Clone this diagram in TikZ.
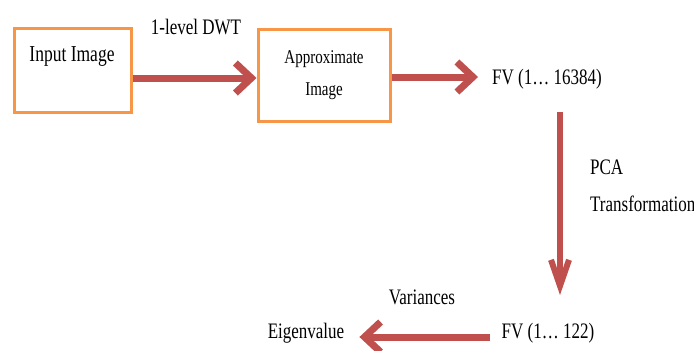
\documentclass[tikz,border=0pt]{standalone}
\usepackage{fontspec}
\setmainfont{Liberation Serif}
\usepackage{graphicx}
\usetikzlibrary{arrows.meta}
\definecolor{boxorange}{HTML}{F79646}
\definecolor{arrred}{HTML}{C0504D}
\newcommand\vtext[1]{\scalebox{1}[1.3]{#1}}
\begin{document}
\begin{tikzpicture}[x=1pt,y=-1pt,
  box/.style={draw=boxorange, line width=3pt, fill=white, inner sep=0pt},
  txt/.style={inner sep=0pt, font=\fontsize{17}{20}\selectfont},
  arr/.style={draw=arrred, line width=7pt, -{Straight Barb[length=16pt,width=30pt]}},
  ]
\useasboundingbox[fill=white] (0,0) rectangle (694,351);
% boxes
\node[box, minimum width=117pt, minimum height=84pt] (inp) at (72.5,70) {};
\node[box, minimum width=132pt, minimum height=92pt] (app) at (324,75) {};
% texts
\node[txt, font=\fontsize{17.5}{22}\selectfont] (inptxt) at (72,57) {\vtext{Input Image}};
\node[txt] (apptxt) at (324,73) {\vtext{\fontsize{15}{25}\selectfont\begin{tabular}{@{}c@{}}Approximate\\Image\end{tabular}}};
\node[txt] (dwt) at (196,27) {\vtext{1-level DWT}};
\node[txt] (fv1) at (547,79) {\vtext{FV (1… 16384)}};
\node[txt, anchor=west] (pca) at (590,167) {\vtext{PCA}};
\node[txt, anchor=west] (trans) at (590,204) {\vtext{Transformation}};
\node[txt] (fv2) at (548,333) {\vtext{FV (1… 122)}};
\node[txt] (eig) at (306,333) {\vtext{Eigenvalue}};
\node[txt] (var) at (422,297) {\vtext{Variances}};
% connector ends
\coordinate (v1) at (560,112);
\coordinate (v2) at (560,295);
% arrows
\draw[arr] ([yshift=-8pt]inp.east) -- ([yshift=-8pt]inp.east -| app.west);
\draw[arr] ([yshift=-2pt]app.east) -- ([xshift=-14pt,yshift=2pt]fv1.west);
\draw[arr, line width=6pt, -{Straight Barb[length=26pt,width=18pt]}] (v1) -- (v2);
\draw[arr] ([xshift=-12pt,yshift=-4pt]fv2.west) -- ([xshift=15pt,yshift=-4pt]eig.east);
\end{tikzpicture}
\end{document}
